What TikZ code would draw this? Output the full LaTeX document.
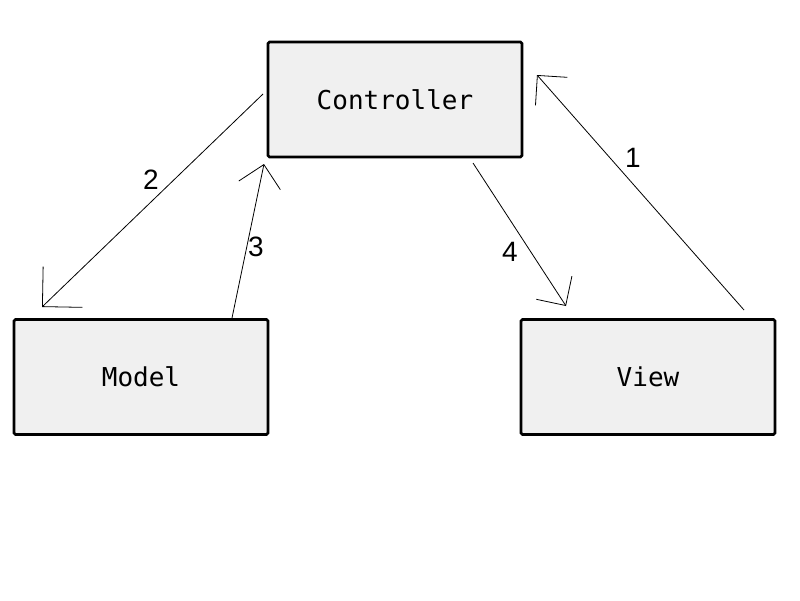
\documentclass[tikz,border=0pt]{standalone}
\usepackage{fontspec}
\setmainfont{Liberation Sans}
\newfontfamily\boxfont{DejaVu Sans Mono}
\usetikzlibrary{arrows.meta,calc}
\definecolor{boxfill}{HTML}{F0F0F0}
\tikzset{
  block/.style={draw=black, fill=boxfill, line width=2.8pt, rounded corners=1.5pt,
    minimum width=254pt, minimum height=115pt, inner sep=0pt, outer sep=0pt,
    font=\boxfont\fontsize{26}{30}\selectfont},
  flow/.style={draw=black, line width=0.8pt,
    -{Straight Barb[angle=90:#1, line width=0.8pt]}},
  flow/.default=30pt,
  num/.style={font=\fontsize{28}{32}\selectfont, inner sep=0pt}
}
\begin{document}
\begin{tikzpicture}[x=1pt, y=-1pt]
  \useasboundingbox (0,0) rectangle (800,600);
  % the three parts of the pattern
  \node[block] (ctrl)  at (395,99.5) {Controller};
  \node[block] (model) at (141,377)  {Model};
  \node[block] (view)  at (648,377)  {View};
  % message flow
  \draw[flow] ($(view.north)+(96,-9.5)$) -- ($(ctrl.east)+(15,-24.5)$);
  \draw[flow=40pt] ($(ctrl.west)+(-5,-5.5)$) -- ($(model.north)+(-99,-12.5)$);
  \draw[flow] ($(model.north)+(91,-1.5)$) -- ($(ctrl.south west)+(-4,7)$);
  \draw[flow] ($(ctrl.south)+(78,6)$) -- ($(view.north)+(-82,-13.5)$);
  % step numbers
  \node[num] (n1) at (633,158) {1};
  \node[num] (n2) at (151,180) {2};
  \node[num] (n3) at (256,247) {3};
  \node[num] (n4) at (510,252) {4};
\end{tikzpicture}
\end{document}
